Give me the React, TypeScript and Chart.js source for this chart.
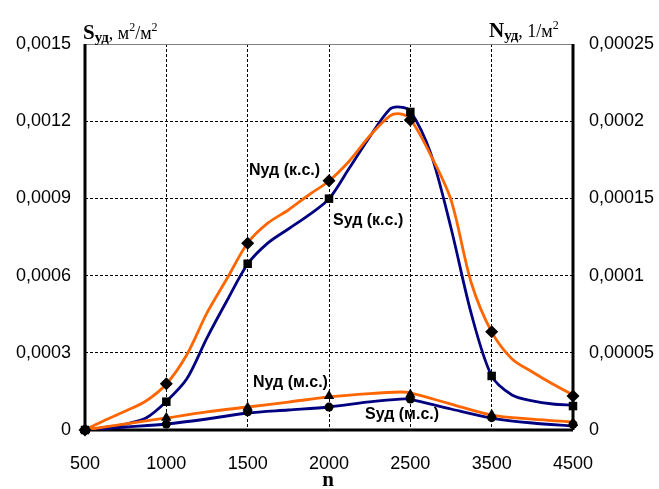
import React, { useEffect, useRef } from "react";
import { Chart, registerables } from "chart.js";

Chart.register(...registerables);

const categories = ["500", "1000", "1500", "2000", "2500", "3500", "4500"];
const leftTicks = [0, 0.0003, 0.0006, 0.0009, 0.0012, 0.0015];
const rightTicks = [0, 0.00005, 0.0001, 0.00015, 0.0002, 0.00025];

// marker values at each category (index 0..6)
const sKS = [0, 0.00011, 0.000646, 0.000899, 0.001236, 0.00021, 0.000093];
const nKS = [0, 0.00003, 0.000121, 0.0001615, 0.0002008, 0.0000637, 0.000022];
const sMS = [0, 0.000023, 0.000071, 0.000089, 0.00012, 0.000048, 0.000022];
const nMS = [0, 0.000008, 0.0000145, 0.000022, 0.000023, 0.0000099, 0.0000045];

// smoothed line traces (positions are category indices)
const kLineX = [0, 0.25, 0.5, 0.75, 1, 1.25, 1.5, 1.75, 2, 2.25, 2.5, 2.75, 3, 3.25, 3.5, 3.75, 3.875, 4, 4.25, 4.5, 4.75, 5, 5.25, 5.5, 5.75, 6];
const sKSLine = [0, 0.0000105, 0.0000233, 0.0000466, 0.000111, 0.000198, 0.000358, 0.000505, 0.000645, 0.000727, 0.000781, 0.000835, 0.000898, 0.001018, 0.001139, 0.001247, 0.001255, 0.00124, 0.001076, 0.000785, 0.000451, 0.00021, 0.000136, 0.000113, 0.000101, 0.000097];
const nKSLine = [0, 0.0000065, 0.0000123, 0.0000188, 0.0000298, 0.0000486, 0.0000758, 0.0000984, 0.0001211, 0.0001341, 0.0001425, 0.0001522, 0.0001613, 0.0001742, 0.0001904, 0.0002034, 0.0002047, 0.0002014, 0.0001781, 0.000149, 0.0000952, 0.0000635, 0.000046, 0.0000376, 0.0000298, 0.0000227];
const mLineX = [0, 0.5, 1, 1.5, 2, 2.5, 3, 3.5, 3.875, 4, 4.5, 5, 5.5, 6];
const sMSLine = [0, 0.0000117, 0.0000233, 0.0000427, 0.000066, 0.0000777, 0.0000894, 0.000109, 0.00012, 0.000119, 0.0000816, 0.0000466, 0.0000272, 0.0000155];
const nMSLine = [0, 0.0000039, 0.0000078, 0.0000117, 0.0000149, 0.0000181, 0.0000214, 0.0000236, 0.0000246, 0.000024, 0.0000168, 0.0000097, 0.0000071, 0.0000052];

const BLUE = "#000080";
const ORANGE = "#FF6600";
const SANS = "'Liberation Sans', Arial, sans-serif";
const SERIF = "'Liberation Serif', 'Times New Roman', serif";

const fmt = (v: number) => (v === 0 ? "0" : String(parseFloat(v.toPrecision(6))).replace(".", ","));

const pts = (xs: number[], ys: number[]) => xs.map((x, i) => ({ x, y: ys[i] }));

const framePlugin = {
  id: "frame",
  beforeDatasetsDraw(chart: any) {
    const { ctx, chartArea: a } = chart;
    ctx.save();
    ctx.strokeStyle = "#808080";
    ctx.lineWidth = 1;
    ctx.beginPath();
    ctx.moveTo(a.left, a.top + 0.5);
    ctx.lineTo(a.right, a.top + 0.5);
    ctx.stroke();
    ctx.strokeStyle = "#000";
    ctx.lineWidth = 3;
    ctx.beginPath();
    ctx.moveTo(a.left, a.top);
    ctx.lineTo(a.left, a.bottom);
    ctx.lineTo(a.right, a.bottom);
    ctx.moveTo(a.right, a.top);
    ctx.lineTo(a.right, a.bottom);
    ctx.stroke();
    ctx.restore();
  },
  afterDraw(chart: any) {
    const { ctx } = chart;
    ctx.save();
    ctx.fillStyle = "#000";
    ctx.textBaseline = "alphabetic";
    ctx.textAlign = "left";
    const seq = (x: number, y: number, parts: [string, string, number][]) => {
      let cx = x;
      for (const [t, f, dy] of parts) {
        ctx.font = f;
        ctx.fillText(t, cx, y + dy);
        cx += ctx.measureText(t).width;
      }
    };
    seq(83, 39, [
      ["S", `bold 21px ${SERIF}`, 0],
      ["уд", `bold 15px ${SERIF}`, 3],
      [", м", `18px ${SERIF}`, 0],
      ["2", `12px ${SERIF}`, -8],
      ["/м", `18px ${SERIF}`, 0],
      ["2", `12px ${SERIF}`, -8],
    ]);
    seq(489, 37, [
      ["N", `bold 21px ${SERIF}`, 0],
      ["уд", `bold 15px ${SERIF}`, 3],
      [", 1/м", `18px ${SERIF}`, 0],
      ["2", `12px ${SERIF}`, -8],
    ]);
    ctx.font = `bold 21px ${SERIF}`;
    ctx.textAlign = "center";
    ctx.fillText("n", 328, 486);
    ctx.font = `bold 16px ${SANS}`;
    ctx.textAlign = "left";
    ctx.textBaseline = "middle";
    ctx.fillText("Nуд (к.с.)", 249, 171);
    ctx.fillText("Sуд (к.с.)", 333, 221);
    ctx.fillText("Nуд (м.с.)", 253, 383);
    ctx.fillText("Sуд (м.с.)", 365, 415);
    ctx.restore();
  },
};

export default function App() {
  const ref = useRef<HTMLCanvasElement>(null);
  useEffect(() => {
    if (!ref.current) return;
    const markerBase = {
      showLine: false,
      pointBackgroundColor: "#000",
      pointBorderColor: "#000",
      borderColor: "#000",
      backgroundColor: "#000",
      pointBorderWidth: 0,
      clip: false,
      order: 0,
    };
    const lineBase = {
      pointRadius: 0,
      borderWidth: 2.8,
      tension: 0.3,
      fill: false,
      order: 1,
    };
    const chart = new Chart(ref.current, {
      type: "line",
      data: {
        datasets: [
          { ...lineBase, data: pts(kLineX, nKSLine), yAxisID: "y1", borderColor: ORANGE },
          { ...lineBase, data: pts(mLineX, nMSLine), yAxisID: "y1", borderColor: ORANGE },
          { ...lineBase, data: pts(kLineX, sKSLine), yAxisID: "y", borderColor: BLUE },
          { ...lineBase, data: pts(mLineX, sMSLine), yAxisID: "y", borderColor: BLUE },
          { ...markerBase, data: sKS.map((y, x) => ({ x, y })), yAxisID: "y", pointStyle: "rect", pointRadius: 6 },
          { ...markerBase, data: nKS.map((y, x) => ({ x, y })), yAxisID: "y1", pointStyle: "rectRot", pointRadius: 6.5 },
          { ...markerBase, data: sMS.map((y, x) => ({ x, y })), yAxisID: "y", pointStyle: "circle", pointRadius: 4.5 },
          { ...markerBase, data: nMS.map((y, x) => ({ x, y })), yAxisID: "y1", pointStyle: "triangle", pointRadius: 6 },
        ] as any,
      },
      options: {
        animation: false,
        responsive: false,
        maintainAspectRatio: false,
        layout: { padding: { top: 44, left: 0, right: 0, bottom: 0 } },
        plugins: { legend: { display: false }, tooltip: { enabled: false } },
        scales: {
          x: {
            type: "linear",
            min: 0,
            max: 6,
            afterBuildTicks: (s: any) => {
              s.ticks = categories.map((_, i) => ({ value: i }));
            },
            afterFit: (s: any) => {
              s.height = 59;
            },
            ticks: {
              callback: (v: any) => categories[Math.round(v)],
              font: { family: SANS, size: 18 },
              color: "#000",
              padding: 23,
              maxRotation: 0,
              autoSkip: false,
            },
            grid: {
              color: (c: any) => (c.index === 0 || c.index === 6 ? "rgba(0,0,0,0)" : "#000"),
              lineWidth: 1,
              drawTicks: false,
            },
            border: { display: false, dash: [3, 2] },
          },
          y: {
            type: "linear",
            position: "left",
            min: 0,
            max: 0.0015,
            afterBuildTicks: (s: any) => {
              s.ticks = leftTicks.map((value) => ({ value }));
            },
            afterFit: (s: any) => {
              s.width = 85;
            },
            ticks: {
              callback: (v: any) => fmt(v),
              font: { family: SANS, size: 18 },
              color: "#000",
              padding: 14,
            },
            grid: {
              color: (c: any) => (c.index === 0 || c.index === 5 ? "rgba(0,0,0,0)" : "#000"),
              lineWidth: 1,
              drawTicks: false,
            },
            border: { display: false, dash: [3, 2] },
          },
          y1: {
            type: "linear",
            position: "right",
            min: 0,
            max: 0.00025,
            afterBuildTicks: (s: any) => {
              s.ticks = rightTicks.map((value) => ({ value }));
            },
            afterFit: (s: any) => {
              s.width = 86;
            },
            ticks: {
              callback: (v: any) => fmt(v),
              font: { family: SANS, size: 18 },
              color: "#000",
              padding: 16,
            },
            grid: { display: false, drawTicks: false },
            border: { display: false },
          },
        },
      } as any,
      plugins: [framePlugin],
    });
    return () => chart.destroy();
  }, []);
  return (
    <div style={{ position: "fixed", left: 0, top: 0, width: 659, height: 489, background: "#fff" }}>
      <canvas ref={ref} width={659} height={489} style={{ display: "block" }} />
    </div>
  );
}
